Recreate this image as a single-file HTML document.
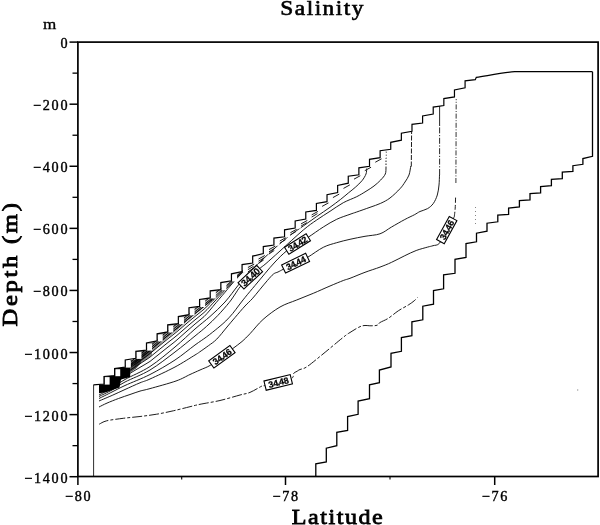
<!DOCTYPE html>
<html><head><meta charset="utf-8"><style>
html,body{margin:0;padding:0;background:#fff;width:600px;height:525px;overflow:hidden;}
body{position:relative;}
svg{will-change:transform;}
.tk{font-family:"Liberation Serif",serif;fill:#000;stroke:#000;stroke-width:0.4px;letter-spacing:1.7px;}
.tt{font-family:"Liberation Serif",serif;font-weight:bold;fill:#000;}
.tr{font-family:"Liberation Serif",serif;fill:#000;stroke:#000;}
.lb{font-family:"Liberation Sans",sans-serif;font-weight:bold;fill:#000;stroke:#000;stroke-width:0.25px;}
</style></head><body>
<svg width="600" height="525" viewBox="0 0 600 525" style="position:absolute;left:0;top:0">
<g fill="none" stroke="#111" stroke-width="0.95" stroke-linejoin="round">
<polyline points="99.00,392.24 102.00,390.98 105.00,389.54 108.00,387.73 111.00,385.92 114.00,383.94 117.00,381.86 120.00,379.77 123.00,377.69 126.00,375.70 129.00,373.91 132.00,372.12 135.00,370.32 138.00,368.55 141.00,366.79 144.00,365.02 147.00,363.25 150.00,361.42 153.00,359.01 156.00,356.60 159.00,354.21 162.00,351.82 165.00,349.44 168.00,347.06 171.00,344.72 174.00,342.38 177.00,339.86 180.00,337.22 183.00,334.57 186.00,331.92 189.00,329.27 192.00,326.66 195.00,324.05 198.00,321.60 201.00,319.13 204.00,316.65 207.00,313.52 210.00,310.05 213.00,306.39 216.00,302.80 219.00,299.27 222.00,295.77 225.00,292.27 228.00,288.56 231.00,285.00 234.00,281.52 237.00,278.16 240.00,274.96 243.00,271.94 246.00,269.54"/>
<polyline points="99.00,389.90 102.00,388.95 105.00,387.66 108.00,385.68 111.00,383.70 114.00,381.60 117.00,379.42 120.00,377.24 123.00,375.05 126.00,372.93 129.00,370.94 132.00,368.95 135.00,366.96 138.00,365.01 141.00,363.07 144.00,361.13 147.00,359.17 150.00,357.12 153.00,354.65 156.00,352.19 159.00,349.75 162.00,347.33 165.00,344.90 168.00,342.49 171.00,340.14 174.00,337.80 177.00,335.33 180.00,332.76 183.00,330.15 186.00,327.54 189.00,324.93 192.00,322.40 195.00,319.87 198.00,317.44 201.00,315.01 204.00,312.55 207.00,309.61 210.00,306.43 213.00,303.12 216.00,299.86 219.00,296.65 222.00,293.44 225.00,290.21 228.00,286.83 231.00,283.55 234.00,280.30 237.00,277.14 240.00,274.08 243.00,271.17 246.00,268.77"/>
<polyline points="99.00,387.99 102.00,387.29 105.00,386.12 108.00,384.00 111.00,381.89 114.00,379.70 117.00,377.43 120.00,375.16 123.00,372.89 126.00,370.66 129.00,368.51 132.00,366.36 135.00,364.20 138.00,362.11 141.00,360.03 144.00,357.95 147.00,355.84 150.00,353.60 153.00,351.09 156.00,348.58 159.00,346.10 162.00,343.65 165.00,341.19 168.00,338.75 171.00,336.40 174.00,334.06 177.00,331.64 180.00,329.11 183.00,326.53 186.00,323.95 189.00,321.38 192.00,318.91 195.00,316.45 198.00,314.05 201.00,311.63 204.00,309.20 207.00,306.42 210.00,303.46 213.00,300.45 216.00,297.46 219.00,294.51 222.00,291.54 225.00,288.53 228.00,285.41 231.00,282.37 234.00,279.31 237.00,276.30 240.00,273.36 243.00,270.54 246.00,268.14"/>
<polyline points="99.00,386.29 102.00,385.81 105.00,384.75 108.00,382.51 111.00,380.28 114.00,378.00 117.00,375.66 120.00,373.32 123.00,370.97 126.00,368.65 129.00,366.35 132.00,364.05 135.00,361.76 138.00,359.53 141.00,357.32 144.00,355.12 147.00,352.88 150.00,350.47 153.00,347.92 156.00,345.36 159.00,342.86 162.00,340.37 165.00,337.89 168.00,335.42 171.00,333.08 174.00,330.73 177.00,328.35 180.00,325.86 183.00,323.31 186.00,320.77 189.00,318.22 192.00,315.81 195.00,313.40 198.00,311.03 201.00,308.64 204.00,306.22 207.00,303.58 210.00,300.83 213.00,298.07 216.00,295.33 219.00,292.61 222.00,289.85 225.00,287.03 228.00,284.16 231.00,281.32 234.00,278.43 237.00,275.56 240.00,272.72 243.00,269.98 246.00,267.58"/>
<polyline points="99.00,383.58 100.00,383.50 101.00,383.43 102.00,383.35 103.00,383.28 104.00,383.20 105.00,382.41 106.00,381.62 107.00,380.83 108.00,380.04 109.00,379.25 110.00,378.45 111.00,377.66 112.00,376.87 113.00,376.08 114.00,375.29 115.00,374.49 116.00,373.68 117.00,372.87 118.00,372.06 119.00,371.25 120.00,370.44 121.00,369.63 122.00,368.82 123.00,368.01 124.00,367.20 125.00,366.39 126.00,365.58 127.00,364.76 128.00,363.94 129.00,363.12 130.00,362.30 131.00,361.48 132.00,360.66 133.00,359.84 134.00,359.02 135.00,358.20 136.00,357.39 137.00,356.61 138.00,355.83 139.00,355.05 140.00,354.26 141.00,353.48 142.00,352.70 143.00,351.92 144.00,351.14 145.00,350.36 146.00,349.58 147.00,348.75 148.00,347.88 149.00,347.02 150.00,346.15 151.00,345.28 152.00,344.42 153.00,343.55 154.00,342.69 155.00,341.82 156.00,340.95 157.00,340.09 158.00,339.25 159.00,338.41 160.00,337.57 161.00,336.73 162.00,335.89 163.00,335.06 164.00,334.22 165.00,333.38 166.00,332.54 167.00,331.70 168.00,330.88 169.00,330.10 170.00,329.32 171.00,328.54 172.00,327.75 173.00,326.97 174.00,326.19 175.00,325.41 176.00,324.63 177.00,323.85 178.00,323.07 179.00,322.25 180.00,321.41 181.00,320.57 182.00,319.73 183.00,318.89 184.00,318.06 185.00,317.22 186.00,316.38 187.00,315.54 188.00,314.70 189.00,313.87 190.00,313.09 191.00,312.31 192.00,311.52 193.00,310.74 194.00,309.96 195.00,309.18 196.00,308.40 197.00,307.62 198.00,306.83 199.00,306.05 200.00,305.26 201.00,304.46 202.00,303.66 203.00,302.86 204.00,302.06 205.00,301.26 206.00,300.46 207.00,299.66 208.00,298.86 209.00,298.06 210.00,297.26 211.00,296.47 212.00,295.69 213.00,294.91 214.00,294.13 215.00,293.35 216.00,292.57 217.00,291.79 218.00,291.00 219.00,290.22 220.00,289.44 221.00,288.65 222.00,287.82" stroke-width="1.0"/>
<polyline points="99.00,385.98 100.00,385.90 101.00,385.83 102.00,385.75 103.00,385.68 104.00,385.60 105.00,384.81 106.00,384.02 107.00,383.23 108.00,382.44 109.00,381.65 110.00,380.85 111.00,380.06 112.00,379.27 113.00,378.48 114.00,377.69 115.00,376.89 116.00,376.08 117.00,375.27 118.00,374.46 119.00,373.65 120.00,372.84 121.00,372.03 122.00,371.22 123.00,370.41 124.00,369.60 125.00,368.79 126.00,367.98 127.00,367.16 128.00,366.34 129.00,365.52 130.00,364.70 131.00,363.88 132.00,363.06 133.00,362.24 134.00,361.42 135.00,360.60 136.00,359.79 137.00,359.01 138.00,358.23 139.00,357.45 140.00,356.66 141.00,355.88 142.00,355.10 143.00,354.32 144.00,353.54 145.00,352.76 146.00,351.98 147.00,351.15 148.00,350.28 149.00,349.42 150.00,348.55 151.00,347.68 152.00,346.82 153.00,345.95 154.00,345.09 155.00,344.22 156.00,343.35 157.00,342.49 158.00,341.65 159.00,340.81 160.00,339.97 161.00,339.13 162.00,338.29 163.00,337.46 164.00,336.62 165.00,335.78 166.00,334.94 167.00,334.10 168.00,333.28 169.00,332.50 170.00,331.72 171.00,330.94 172.00,330.15 173.00,329.37 174.00,328.59 175.00,327.81 176.00,327.03 177.00,326.25 178.00,325.47 179.00,324.65 180.00,323.81 181.00,322.97 182.00,322.13 183.00,321.29 184.00,320.46 185.00,319.62 186.00,318.78 187.00,317.94 188.00,317.10 189.00,316.27 190.00,315.49 191.00,314.71 192.00,313.92 193.00,313.14 194.00,312.36 195.00,311.58 196.00,310.80 197.00,310.02 198.00,309.23 199.00,308.45 200.00,307.66 201.00,306.86 202.00,306.06 203.00,305.26 204.00,304.46 205.00,303.66 206.00,302.86 207.00,302.06 208.00,301.26 209.00,300.46 210.00,299.66 211.00,298.87 212.00,298.09 213.00,297.31 214.00,296.53 215.00,295.75" stroke-width="1.0"/>
<polyline points="99.00,387.98 100.00,387.90 101.00,387.83 102.00,387.75 103.00,387.68 104.00,387.60 105.00,386.81 106.00,386.02 107.00,385.23 108.00,384.44 109.00,383.65 110.00,382.85 111.00,382.06 112.00,381.27 113.00,380.48 114.00,379.69 115.00,378.89 116.00,378.08 117.00,377.27 118.00,376.46 119.00,375.65 120.00,374.84 121.00,374.03 122.00,373.22 123.00,372.41 124.00,371.60 125.00,370.79 126.00,369.98 127.00,369.16 128.00,368.34 129.00,367.52 130.00,366.70 131.00,365.88 132.00,365.06 133.00,364.24 134.00,363.42 135.00,362.60 136.00,361.79 137.00,361.01 138.00,360.23 139.00,359.45 140.00,358.66 141.00,357.88 142.00,357.10 143.00,356.32 144.00,355.54 145.00,354.76 146.00,353.98 147.00,353.15 148.00,352.28 149.00,351.42 150.00,350.55 151.00,349.68 152.00,348.82 153.00,347.95 154.00,347.09 155.00,346.22 156.00,345.35 157.00,344.49 158.00,343.65 159.00,342.81 160.00,341.97 161.00,341.13 162.00,340.29 163.00,339.46 164.00,338.62 165.00,337.78 166.00,336.94 167.00,336.10 168.00,335.28 169.00,334.50 170.00,333.72 171.00,332.94 172.00,332.15 173.00,331.37 174.00,330.59 175.00,329.81 176.00,329.03 177.00,328.25 178.00,327.47 179.00,326.65 180.00,325.81 181.00,324.97 182.00,324.13 183.00,323.29 184.00,322.46 185.00,321.62 186.00,320.78 187.00,319.94 188.00,319.10 189.00,318.27 190.00,317.49 191.00,316.71 192.00,315.92 193.00,315.14 194.00,314.36 195.00,313.58 196.00,312.80 197.00,312.02 198.00,311.23 199.00,310.45 200.00,309.66 201.00,308.86 202.00,308.06 203.00,307.26 204.00,306.46 205.00,305.66 206.00,304.86 207.00,304.06 208.00,303.26 209.00,302.46 210.00,301.66 211.00,300.87 212.00,300.09 213.00,299.31 214.00,298.53 215.00,297.75" stroke-width="1.0"/>
<path d="M 99.00 395.00 C 101.17 393.83 107.67 390.58 112.00 388.00 C 116.33 385.42 118.67 383.08 125.00 379.50 C 131.33 375.92 141.67 371.92 150.00 366.50 C 158.33 361.08 167.50 353.25 175.00 347.00 C 182.50 340.75 189.17 334.08 195.00 329.00 C 200.83 323.92 205.00 321.00 210.00 316.50 C 215.00 312.00 220.27 307.25 225.00 302.00 C 229.73 296.75 234.23 290.08 238.40 285.00 C 242.57 279.92 246.07 275.67 250.00 271.50 C 253.93 267.33 257.83 263.92 262.00 260.00 C 266.17 256.08 270.33 252.12 275.00 248.00 C 279.67 243.88 285.28 238.97 290.00 235.30 C 294.72 231.63 298.85 229.13 303.30 226.00 C 307.75 222.87 312.25 219.62 316.70 216.50 C 321.15 213.38 326.00 210.17 330.00 207.30 C 334.00 204.43 337.58 201.73 340.70 199.30 C 343.82 196.87 346.27 194.70 348.70 192.70 C 351.13 190.70 353.08 189.30 355.30 187.30 C 357.52 185.30 360.22 182.92 362.00 180.70 C 363.78 178.48 365.22 176.03 366.00 174.00 C 366.78 171.97 366.58 169.42 366.70 168.50"/>
<path d="M 99.00 396.50 C 101.17 395.42 107.67 392.42 112.00 390.00 C 116.33 387.58 118.67 385.33 125.00 382.00 C 131.33 378.67 141.67 375.00 150.00 370.00 C 158.33 365.00 167.50 357.67 175.00 352.00 C 182.50 346.33 189.77 340.25 195.00 336.00 C 200.23 331.75 202.60 329.92 206.40 326.50 C 210.20 323.08 214.00 319.50 217.80 315.50 C 221.60 311.50 226.30 306.08 229.20 302.50 C 232.10 298.92 233.32 296.68 235.20 294.00 C 237.08 291.32 238.07 289.12 240.50 286.40 C 242.93 283.68 246.72 280.58 249.80 277.70 C 252.88 274.82 256.30 271.47 259.00 269.10 C 261.70 266.73 262.50 266.52 266.00 263.50 C 269.50 260.48 273.78 256.58 280.00 251.00 C 286.22 245.42 297.18 235.17 303.30 230.00 C 309.42 224.83 312.25 223.12 316.70 220.00 C 321.15 216.88 325.57 214.18 330.00 211.30 C 334.43 208.42 338.85 205.13 343.30 202.70 C 347.75 200.27 352.92 198.60 356.70 196.70 C 360.48 194.80 363.12 193.08 366.00 191.30 C 368.88 189.52 371.55 187.88 374.00 186.00 C 376.45 184.12 378.82 182.00 380.70 180.00 C 382.58 178.00 384.42 176.00 385.30 174.00 C 386.18 172.00 385.88 169.00 386.00 168.00"/>
<path d="M 99.00 398.50 C 101.17 397.42 107.67 394.17 112.00 392.00 C 116.33 389.83 118.67 388.42 125.00 385.50 C 131.33 382.58 141.67 378.75 150.00 374.50 C 158.33 370.25 167.50 364.92 175.00 360.00 C 182.50 355.08 189.77 348.83 195.00 345.00 C 200.23 341.17 202.60 339.83 206.40 337.00 C 210.20 334.17 214.57 330.67 217.80 328.00 C 221.03 325.33 223.32 323.42 225.80 321.00 C 228.28 318.58 230.60 316.00 232.70 313.50 C 234.80 311.00 236.35 308.67 238.40 306.00 C 240.45 303.33 242.23 300.92 245.00 297.50 C 247.77 294.08 251.67 289.50 255.00 285.50 C 258.33 281.50 261.67 277.42 265.00 273.50 C 268.33 269.58 271.38 265.78 275.00 262.00 C 278.62 258.22 282.95 253.80 286.70 250.80 C 290.45 247.80 293.90 246.27 297.50 244.00 C 301.10 241.73 304.00 240.03 308.30 237.20 C 312.60 234.37 318.57 229.98 323.30 227.00 C 328.03 224.02 332.25 221.42 336.70 219.30 C 341.15 217.18 346.67 215.52 350.00 214.30 C 353.33 213.08 353.37 213.17 356.70 212.00 C 360.03 210.83 366.00 208.75 370.00 207.30 C 374.00 205.85 377.37 204.85 380.70 203.30 C 384.03 201.75 386.78 200.43 390.00 198.00 C 393.22 195.57 397.50 191.37 400.00 188.70 C 402.50 186.03 403.50 184.28 405.00 182.00 C 406.50 179.72 408.03 177.67 409.00 175.00 C 409.97 172.33 410.50 167.50 410.80 166.00"/>
<path d="M 99.00 401.00 C 101.30 400.02 108.47 397.02 112.80 395.10 C 117.13 393.18 120.47 391.55 125.00 389.50 C 129.53 387.45 135.83 384.55 140.00 382.80 C 144.17 381.05 144.17 381.63 150.00 379.00 C 155.83 376.37 167.50 371.00 175.00 367.00 C 182.50 363.00 190.83 357.55 195.00 355.00 C 199.17 352.45 197.78 353.23 200.00 351.70 C 202.22 350.17 205.52 347.88 208.30 345.80 C 211.08 343.72 213.58 342.33 216.70 339.20 C 219.82 336.07 223.95 330.62 227.00 327.00 C 230.05 323.38 232.00 321.00 235.00 317.50 C 238.00 314.00 242.13 309.12 245.00 306.00 C 247.87 302.88 249.73 301.53 252.20 298.80 C 254.67 296.07 257.27 292.65 259.80 289.60 C 262.33 286.55 265.12 283.10 267.40 280.50 C 269.68 277.90 271.73 275.42 273.50 274.00 C 275.27 272.58 276.32 272.82 278.00 272.00 C 279.68 271.18 280.67 270.57 283.60 269.10 C 286.53 267.63 291.60 265.17 295.60 263.20 C 299.60 261.23 302.98 259.95 307.60 257.30 C 312.22 254.65 318.45 249.73 323.30 247.30 C 328.15 244.87 332.25 244.03 336.70 242.70 C 341.15 241.37 345.28 240.37 350.00 239.30 C 354.72 238.23 360.00 237.22 365.00 236.30 C 370.00 235.38 375.60 235.33 380.00 233.80 C 384.40 232.27 387.27 229.48 391.40 227.10 C 395.53 224.72 400.98 221.55 404.80 219.50 C 408.62 217.45 411.77 216.13 414.30 214.80 C 416.83 213.47 417.78 212.53 420.00 211.50 C 422.22 210.47 425.38 209.93 427.60 208.60 C 429.82 207.27 431.68 205.77 433.30 203.50 C 434.92 201.23 436.35 198.08 437.30 195.00 C 438.25 191.92 438.63 188.33 439.00 185.00 C 439.37 181.67 439.42 176.67 439.50 175.00"/>
<path d="M 99.00 407.00 C 100.33 406.35 103.75 404.52 107.00 403.10 C 110.25 401.68 114.67 399.93 118.50 398.50 C 122.33 397.07 126.42 395.73 130.00 394.50 C 133.58 393.27 136.67 392.08 140.00 391.10 C 143.33 390.12 144.00 390.28 150.00 388.60 C 156.00 386.92 169.33 383.35 176.00 381.00 C 182.67 378.65 186.00 376.33 190.00 374.50 C 194.00 372.67 196.58 371.55 200.00 370.00 C 203.42 368.45 206.85 367.40 210.50 365.20 C 214.15 363.00 218.15 359.60 221.90 356.80 C 225.65 354.00 229.65 350.95 233.00 348.40 C 236.35 345.85 239.17 343.95 242.00 341.50 C 244.83 339.05 246.50 337.37 250.00 333.70 C 253.50 330.03 258.00 323.95 263.00 319.50 C 268.00 315.05 274.38 310.25 280.00 307.00 C 285.62 303.75 291.15 302.28 296.70 300.00 C 302.25 297.72 307.75 295.63 313.30 293.30 C 318.85 290.97 325.00 288.13 330.00 286.00 C 335.00 283.87 339.97 281.78 343.30 280.50 C 346.63 279.22 346.38 279.67 350.00 278.30 C 353.62 276.93 360.00 274.17 365.00 272.30 C 370.00 270.43 375.60 268.75 380.00 267.10 C 384.40 265.45 387.27 264.30 391.40 262.40 C 395.53 260.50 400.67 257.68 404.80 255.70 C 408.93 253.72 412.40 251.93 416.20 250.50 C 420.00 249.07 424.80 247.90 427.60 247.10 C 430.40 246.30 431.02 246.35 433.00 245.70 C 434.98 245.05 437.21 245.80 439.50 243.20 C 441.79 240.60 444.28 234.52 446.75 230.10 C 449.22 225.68 453.04 218.93 454.30 216.70"/>
<path d="M 454.30 216.70 C 454.45 215.27 454.98 211.43 455.20 208.10 C 455.42 204.77 455.53 198.60 455.60 196.70" stroke-dasharray="5 2"/>
<path d="M 455.9 183 L 456.2 99" stroke-dasharray="5 1.6 1 1.6" stroke-width="0.85"/>
<path d="M 439.6 175 L 439.6 125" stroke-dasharray="6 1.6 1.2 1.6" stroke-width="0.9"/>
<path d="M 439.6 125.5 L 439.6 106" stroke-width="0.9"/>
<path d="M 411.3 166.5 L 411.6 132" stroke-dasharray="5 1.5"/>
<path d="M 386 168 L 386 151" stroke-dasharray="1.5 1.5"/>
<path d="M 99.20 424.20 C 100.45 423.63 102.68 421.78 106.70 420.80 C 110.72 419.82 117.75 419.02 123.30 418.30 C 128.85 417.58 134.43 417.18 140.00 416.50 C 145.57 415.82 151.15 415.15 156.70 414.20 C 162.25 413.25 167.75 412.05 173.30 410.80 C 178.85 409.55 185.55 407.78 190.00 406.70 C 194.45 405.62 195.00 405.33 200.00 404.30 C 205.00 403.27 213.33 402.05 220.00 400.50 C 226.67 398.95 235.00 396.35 240.00 395.00 C 245.00 393.65 246.33 393.90 250.00 392.40 C 253.67 390.90 259.53 387.13 262.00 386.00 C 264.47 384.87 262.10 386.20 264.80 385.60 C 267.50 385.00 273.70 383.63 278.20 382.40 C 282.70 381.17 289.25 379.68 291.80 378.20 C 294.35 376.72 292.63 374.65 293.50 373.50 C 294.37 372.35 295.92 371.97 297.00 371.30 C 298.08 370.63 298.33 370.27 300.00 369.50 C 301.67 368.73 303.17 369.28 307.00 366.70 C 310.83 364.12 317.00 358.87 323.00 354.00 C 329.00 349.13 338.50 341.08 343.00 337.50 C 347.50 333.92 346.88 334.42 350.00 332.50 C 353.12 330.58 358.20 327.12 361.70 326.00 C 365.20 324.88 368.45 325.92 371.00 325.80 C 373.55 325.68 375.50 325.85 377.00 325.30 C 378.50 324.75 378.12 323.67 380.00 322.50 C 381.88 321.33 385.25 320.25 388.30 318.30 C 391.35 316.35 394.97 313.02 398.30 310.80 C 401.63 308.58 405.65 306.67 408.30 305.00 C 410.95 303.33 412.67 302.05 414.20 300.80 C 415.73 299.55 416.95 298.05 417.50 297.50" stroke-dasharray="10 2 3 2"/>
<line x1="247.76" y1="267.60" x2="254.26" y2="264.00" stroke-width="0.95" stroke="#111"/>
<line x1="247.76" y1="269.80" x2="253.66" y2="266.20" stroke-width="0.95" stroke="#111"/>
<line x1="247.76" y1="272.00" x2="253.06" y2="268.40" stroke-width="0.95" stroke="#111"/>
<line x1="258.38" y1="259.10" x2="264.88" y2="255.50" stroke-width="0.95" stroke="#111"/>
<line x1="258.38" y1="261.30" x2="264.28" y2="257.70" stroke-width="0.95" stroke="#111"/>
<line x1="258.38" y1="263.50" x2="263.68" y2="259.90" stroke-width="0.95" stroke="#111"/>
<line x1="269.00" y1="249.60" x2="275.50" y2="246.00" stroke-width="0.95" stroke="#111"/>
<line x1="269.00" y1="251.80" x2="274.90" y2="248.20" stroke-width="0.95" stroke="#111"/>
<line x1="269.00" y1="254.00" x2="274.30" y2="250.40" stroke-width="0.95" stroke="#111"/>
<line x1="279.62" y1="241.10" x2="286.12" y2="237.50" stroke-width="0.95" stroke="#111"/>
<line x1="279.62" y1="243.30" x2="285.52" y2="239.70" stroke-width="0.95" stroke="#111"/>
<line x1="290.24" y1="232.80" x2="296.74" y2="229.20" stroke-width="0.95" stroke="#111"/>
<line x1="290.24" y1="235.00" x2="296.14" y2="231.40" stroke-width="0.95" stroke="#111"/>
<line x1="300.86" y1="224.00" x2="307.36" y2="220.40" stroke-width="0.95" stroke="#111"/>
<line x1="300.86" y1="226.20" x2="306.76" y2="222.60" stroke-width="0.95" stroke="#111"/>
<line x1="311.48" y1="215.00" x2="317.98" y2="211.40" stroke-width="0.95" stroke="#111"/>
<line x1="311.48" y1="217.20" x2="317.38" y2="213.60" stroke-width="0.95" stroke="#111"/>
<line x1="322.10" y1="206.40" x2="328.60" y2="202.80" stroke-width="0.95" stroke="#111"/>
<line x1="332.72" y1="197.70" x2="339.22" y2="194.10" stroke-width="0.95" stroke="#111"/>
<line x1="343.34" y1="188.50" x2="349.84" y2="184.90" stroke-width="0.95" stroke="#111"/>
<line x1="353.96" y1="179.20" x2="360.46" y2="175.60" stroke-width="0.95" stroke="#111"/>
<line x1="364.58" y1="170.80" x2="371.08" y2="167.20" stroke-width="0.95" stroke="#111"/>
<line x1="375.20" y1="162.30" x2="381.70" y2="158.70" stroke-width="0.95" stroke="#111"/>
</g>
<polygon points="99.00,384.60 104.00,384.20 104.00,376.50 114.60,375.60 114.60,368.60 125.20,367.30 130.20,366.90 130.20,377.00 121.00,379.50 119.50,387.50 106.00,392.30 99.00,393.20" fill="#000"/>
<polygon points="130.20,360.30 135.90,359.40 141.00,358.60 141.00,363.00 136.00,368.50 130.20,372.50" fill="#000" fill-opacity="0.7"/>
<polygon points="141.00,351.80 146.50,351.00 152.00,350.20 152.00,355.00 146.50,359.50 141.00,362.50" fill="#000" fill-opacity="0.45"/>
<defs><linearGradient id="gb" gradientUnits="userSpaceOnUse" x1="134" y1="0" x2="360" y2="0"><stop offset="0" stop-color="#000" stop-opacity="0.5"/><stop offset="0.137" stop-color="#000" stop-opacity="0.42"/><stop offset="0.29" stop-color="#000" stop-opacity="0.28"/><stop offset="0.47" stop-color="#000" stop-opacity="0.1"/><stop offset="0.65" stop-color="#000" stop-opacity="0.0"/><stop offset="1" stop-color="#000" stop-opacity="0.0"/></linearGradient></defs>
<polygon points="134.50,358.70 135.86,358.30 135.86,351.30 146.48,350.00 146.48,343.00 157.10,340.80 157.10,333.80 167.72,331.90 167.72,324.90 178.34,323.60 178.34,316.60 188.96,314.70 188.96,307.70 199.58,306.40 199.58,299.40 210.20,297.90 210.20,290.90 220.82,289.60 220.82,282.60 231.44,280.80 231.44,273.80 242.06,271.60 242.06,264.60 252.68,263.10 252.68,256.10 263.30,253.60 263.30,246.60 273.92,245.10 273.92,238.10 284.54,236.80 284.54,229.80 295.16,228.00 295.16,221.00 305.78,219.00 305.78,212.00 316.40,210.40 316.40,203.40 327.02,201.70 327.02,194.70 337.64,192.50 337.64,185.50 348.26,183.20 348.26,176.20 358.88,174.80 358.88,177.30 356.88,178.88 354.88,180.46 352.88,182.05 350.88,183.63 348.88,185.21 346.88,186.91 344.88,188.66 342.88,190.41 340.88,192.16 338.88,193.91 336.88,195.66 334.88,197.39 332.88,199.12 330.88,200.86 328.88,202.59 326.88,204.31 324.88,205.95 322.88,207.59 320.88,209.23 318.88,210.87 316.88,212.51 314.88,214.13 312.88,215.75 310.88,217.37 308.88,218.99 306.88,220.61 304.88,222.26 302.88,223.96 300.88,225.65 298.88,227.35 296.88,229.04 294.88,230.73 292.88,232.39 290.88,234.05 288.88,235.70 286.88,237.36 284.88,239.02 282.88,240.60 280.88,242.16 278.88,243.72 276.88,245.29 274.88,246.85 272.88,248.43 270.88,250.03 268.88,251.63 266.88,253.23 264.88,254.84 262.88,256.48 260.88,258.26 258.88,260.08 256.88,261.95 254.88,263.82 252.88,265.69 250.88,267.39 248.88,269.07 246.88,270.75 244.88,272.43 242.88,274.11 240.88,275.87 238.88,277.68 236.88,279.49 234.88,281.30 232.88,283.12 230.88,284.91 228.88,286.65 226.88,288.38 224.88,290.12 222.88,291.86 220.88,293.60 218.88,295.24 216.88,296.88 214.88,298.53 212.88,300.17 210.88,301.81 208.88,303.48 206.88,305.16 204.88,306.84 202.88,308.52 200.88,310.20 198.88,311.87 196.88,313.51 194.88,315.16 192.88,316.80 190.88,318.44 188.88,320.09 186.88,321.85 184.88,323.60 182.88,325.36 180.88,327.12 178.88,328.87 176.88,330.55 174.88,332.19 172.88,333.83 170.88,335.48 168.88,337.12 166.88,338.81 164.88,340.56 162.88,342.32 160.88,344.08 158.88,345.83 156.88,347.60 154.88,349.41 152.88,351.22 150.88,353.03 148.88,354.85 146.88,356.66 144.88,358.34 142.88,359.98 140.88,361.62 138.88,363.26 136.88,364.91 134.88,366.59 134.50,366.91" fill="url(#gb)"/>
<polygon points="93.50,384.80 104.00,384.00 104.00,376.50 114.62,375.60 114.62,368.60 125.24,367.00 125.24,360.00 135.86,358.30 135.86,351.30 146.48,350.00 146.48,343.00 157.10,340.80 157.10,333.80 167.72,331.90 167.72,324.90 178.34,323.60 178.34,316.60 188.96,314.70 188.96,307.70 199.58,306.40 199.58,299.40 210.20,297.90 210.20,290.90 220.82,289.60 220.82,282.60 231.44,280.80 231.44,273.80 242.06,271.60 242.06,264.60 252.68,263.10 252.68,256.10 263.30,253.60 263.30,246.60 273.92,245.10 273.92,238.10 284.54,236.80 284.54,229.80 295.16,228.00 295.16,221.00 305.78,219.00 305.78,212.00 316.40,210.40 316.40,203.40 327.02,201.70 327.02,194.70 337.64,192.50 337.64,185.50 348.26,183.20 348.26,176.20 358.88,174.80 358.88,167.80 369.50,166.30 369.50,159.30 380.12,157.70 380.12,150.70 390.74,149.30 390.74,142.30 401.36,140.20 401.36,133.20 411.98,131.30 411.98,124.30 422.60,123.00 422.60,116.00 433.22,114.10 433.22,107.10 443.84,105.60 443.84,98.60 454.46,96.90 454.46,89.90 465.08,87.80 465.08,80.80 475.30,79.70 476.30,77.30 514.70,71.70 600.00,60.00 0.00,60.00 0.00,384.80" fill="#fff"/>
<rect x="104.60" y="377.10" width="5.0" height="7.50" fill="#fff"/>
<rect x="115.22" y="369.20" width="5.0" height="7.00" fill="#fff"/>
<rect x="125.84" y="360.60" width="5.0" height="7.00" fill="#fff"/>
<rect x="136.46" y="351.90" width="5.0" height="7.00" fill="#fff"/>
<rect x="147.08" y="343.60" width="5.0" height="7.00" fill="#fff"/>
<rect x="157.70" y="334.40" width="5.0" height="7.00" fill="#fff"/>
<rect x="168.32" y="325.50" width="5.0" height="7.00" fill="#fff"/>
<rect x="178.94" y="317.20" width="5.0" height="7.00" fill="#fff"/>
<rect x="189.56" y="308.30" width="5.0" height="7.00" fill="#fff"/>
<rect x="200.18" y="300.00" width="5.0" height="7.00" fill="#fff"/>
<rect x="210.80" y="291.50" width="5.0" height="7.00" fill="#fff"/>
<rect x="221.42" y="283.20" width="5.0" height="7.00" fill="#fff"/>
<rect x="232.04" y="274.40" width="5.0" height="7.00" fill="#fff"/>
<rect x="242.66" y="265.20" width="5.0" height="7.00" fill="#fff"/>
<rect x="253.28" y="256.70" width="5.0" height="7.00" fill="#fff"/>
<rect x="263.90" y="247.20" width="5.0" height="7.00" fill="#fff"/>
<rect x="274.52" y="238.70" width="5.0" height="7.00" fill="#fff"/>
<rect x="285.14" y="230.40" width="5.0" height="7.00" fill="#fff"/>
<rect x="295.76" y="221.60" width="5.0" height="7.00" fill="#fff"/>
<rect x="306.38" y="212.60" width="5.0" height="7.00" fill="#fff"/>
<rect x="317.00" y="204.00" width="5.0" height="7.00" fill="#fff"/>
<rect x="327.62" y="195.30" width="5.0" height="7.00" fill="#fff"/>
<rect x="338.24" y="186.10" width="5.0" height="7.00" fill="#fff"/>
<rect x="348.86" y="176.80" width="5.0" height="7.00" fill="#fff"/>
<rect x="359.48" y="168.40" width="5.0" height="7.00" fill="#fff"/>
<rect x="370.10" y="159.90" width="5.0" height="7.00" fill="#fff"/>
<rect x="380.72" y="151.30" width="5.0" height="7.00" fill="#fff"/>
<path d="M 93.50,384.80 104.00,384.00 104.00,376.50 114.62,375.60 114.62,368.60 125.24,367.00 125.24,360.00 135.86,358.30 135.86,351.30 146.48,350.00 146.48,343.00 157.10,340.80 157.10,333.80 167.72,331.90 167.72,324.90 178.34,323.60 178.34,316.60 188.96,314.70 188.96,307.70 199.58,306.40 199.58,299.40 210.20,297.90 210.20,290.90 220.82,289.60 220.82,282.60 231.44,280.80 231.44,273.80 242.06,271.60 242.06,264.60 252.68,263.10 252.68,256.10 263.30,253.60 263.30,246.60 273.92,245.10 273.92,238.10 284.54,236.80 284.54,229.80 295.16,228.00 295.16,221.00 305.78,219.00 305.78,212.00 316.40,210.40 316.40,203.40 327.02,201.70 327.02,194.70 337.64,192.50 337.64,185.50 348.26,183.20 348.26,176.20 358.88,174.80 358.88,167.80 369.50,166.30 369.50,159.30 380.12,157.70 380.12,150.70 390.74,149.30 390.74,142.30 401.36,140.20 401.36,133.20 411.98,131.30 411.98,124.30 422.60,123.00 422.60,116.00 433.22,114.10 433.22,107.10 443.84,105.60 443.84,98.60 454.46,96.90 454.46,89.90 465.08,87.80 465.08,80.80 475.30,79.70 476.30,77.30 C 490 75.2 503 72.8 514.7 71.7 L 592.5 71.7" fill="none" stroke="#000" stroke-width="1.2" stroke-linejoin="miter"/>
<line x1="93.6" y1="476" x2="93.6" y2="384.8" stroke="#222" stroke-width="0.95"/>
<polyline points="315.80,477.00 315.80,463.80 326.30,461.90 326.30,448.20 336.80,445.70 336.80,432.40 347.60,430.50 347.60,416.60 358.10,414.30 358.10,401.00 369.50,398.70 369.50,384.80 379.40,382.70 379.40,370.10 391.00,367.00 391.00,353.40 401.40,351.30 401.40,337.60 411.90,335.60 411.90,321.90 422.80,319.80 422.80,306.20 433.50,304.10 433.50,290.50 443.60,288.80 443.60,274.80 455.00,273.30 455.00,259.30 466.00,257.50 466.00,243.50 476.50,241.80 476.50,233.20 487.00,231.20 487.00,223.20 497.80,221.80 497.80,215.00 508.60,214.30 508.60,208.00 519.40,207.00 519.40,200.60 530.00,200.00 530.00,193.70 540.60,192.90 540.60,186.60 551.40,185.70 551.40,179.40 562.30,178.60 562.30,172.00 572.90,171.40 572.90,165.70 582.90,164.30 582.90,158.60 592.50,156.30 592.50,71.70" fill="none" stroke="#000" stroke-width="1.3"/>
<g transform="translate(250.30 277.20) rotate(-43.0)"><rect x="-12.75" y="-4.30" width="25.50" height="8.60" fill="#fff" stroke="#000" stroke-width="1.1"/><text x="0.3" y="3.38" font-size="9.4" text-anchor="middle" class="lb">34<tspan dx="-0.8">.</tspan><tspan dx="-0.6">40</tspan></text></g>
<g transform="translate(297.50 244.00) rotate(-32.0)"><rect x="-12.75" y="-4.10" width="25.50" height="8.20" fill="#fff" stroke="#000" stroke-width="1.1"/><text x="0.3" y="3.20" font-size="8.9" text-anchor="middle" class="lb">34<tspan dx="-0.8">.</tspan><tspan dx="-0.6">42</tspan></text></g>
<g transform="translate(295.60 263.20) rotate(-26.0)"><rect x="-13.35" y="-4.50" width="26.70" height="9.00" fill="#fff" stroke="#000" stroke-width="1.1"/><text x="0.3" y="3.20" font-size="8.9" text-anchor="middle" class="lb">34<tspan dx="-0.8">.</tspan><tspan dx="-0.6">44</tspan></text></g>
<g transform="translate(221.90 356.80) rotate(-36.0)"><rect x="-13.10" y="-4.40" width="26.20" height="8.80" fill="#fff" stroke="#000" stroke-width="1.1"/><text x="0.3" y="3.20" font-size="8.9" text-anchor="middle" class="lb">34<tspan dx="-0.8">.</tspan><tspan dx="-0.6">46</tspan></text></g>
<g transform="translate(446.75 230.10) rotate(-61.3)"><rect x="-13.20" y="-4.35" width="26.40" height="8.70" fill="#fff" stroke="#000" stroke-width="1.1"/><text x="0.3" y="3.20" font-size="8.9" text-anchor="middle" class="lb">34<tspan dx="-0.8">.</tspan><tspan dx="-0.6">46</tspan></text></g>
<g transform="translate(278.20 382.40) rotate(-13.7)"><rect x="-13.50" y="-4.75" width="27.00" height="9.50" fill="#fff" stroke="#000" stroke-width="1.1"/><text x="0.3" y="3.20" font-size="8.9" text-anchor="middle" class="lb">34<tspan dx="-0.8">.</tspan><tspan dx="-0.6">48</tspan></text></g>
<circle cx="577.7" cy="390" r="0.7" fill="#999"/>
<line x1="475.5" y1="207" x2="475.5" y2="227" stroke="#666" stroke-width="0.8" stroke-dasharray="1 3"/>
<rect x="77.9" y="42.1" width="520.2" height="434.4" fill="none" stroke="#000" stroke-width="1.7"/>
<line x1="69.5" y1="42.10" x2="78" y2="42.10" stroke="#000" stroke-width="1.5"/>
<line x1="72.5" y1="73.14" x2="78" y2="73.14" stroke="#000" stroke-width="1.3"/>
<line x1="69.5" y1="104.19" x2="78" y2="104.19" stroke="#000" stroke-width="1.5"/>
<line x1="72.5" y1="135.23" x2="78" y2="135.23" stroke="#000" stroke-width="1.3"/>
<line x1="69.5" y1="166.27" x2="78" y2="166.27" stroke="#000" stroke-width="1.5"/>
<line x1="72.5" y1="197.31" x2="78" y2="197.31" stroke="#000" stroke-width="1.3"/>
<line x1="69.5" y1="228.36" x2="78" y2="228.36" stroke="#000" stroke-width="1.5"/>
<line x1="72.5" y1="259.40" x2="78" y2="259.40" stroke="#000" stroke-width="1.3"/>
<line x1="69.5" y1="290.44" x2="78" y2="290.44" stroke="#000" stroke-width="1.5"/>
<line x1="72.5" y1="321.49" x2="78" y2="321.49" stroke="#000" stroke-width="1.3"/>
<line x1="69.5" y1="352.53" x2="78" y2="352.53" stroke="#000" stroke-width="1.5"/>
<line x1="72.5" y1="383.57" x2="78" y2="383.57" stroke="#000" stroke-width="1.3"/>
<line x1="69.5" y1="414.61" x2="78" y2="414.61" stroke="#000" stroke-width="1.5"/>
<line x1="72.5" y1="445.66" x2="78" y2="445.66" stroke="#000" stroke-width="1.3"/>
<line x1="69.5" y1="476.70" x2="78" y2="476.70" stroke="#000" stroke-width="1.5"/>
<line x1="77.90" y1="476" x2="77.90" y2="485" stroke="#000" stroke-width="1.5"/>
<line x1="181.70" y1="476" x2="181.70" y2="479.5" stroke="#000" stroke-width="1.1"/>
<line x1="285.50" y1="476" x2="285.50" y2="485" stroke="#000" stroke-width="1.5"/>
<line x1="390.00" y1="476" x2="390.00" y2="479.5" stroke="#000" stroke-width="1.1"/>
<line x1="494.70" y1="476" x2="494.70" y2="485" stroke="#000" stroke-width="1.5"/>
<text x="69.2" y="48.10" font-size="14.2" text-anchor="end" class="tk">0</text>
<text x="69.2" y="110.19" font-size="14.2" text-anchor="end" class="tk">−200</text>
<text x="69.2" y="172.27" font-size="14.2" text-anchor="end" class="tk">−400</text>
<text x="69.2" y="234.36" font-size="14.2" text-anchor="end" class="tk">−600</text>
<text x="69.2" y="296.44" font-size="14.2" text-anchor="end" class="tk">−800</text>
<text x="69.2" y="358.53" font-size="14.2" text-anchor="end" class="tk">−1000</text>
<text x="69.2" y="420.61" font-size="14.2" text-anchor="end" class="tk">−1200</text>
<text x="69.2" y="482.70" font-size="14.2" text-anchor="end" class="tk">−1400</text>
<text x="78.60" y="501.0" font-size="14.2" text-anchor="middle" class="tk">−80</text>
<text x="286.20" y="501.0" font-size="14.2" text-anchor="middle" class="tk">−78</text>
<text x="495.40" y="501.0" font-size="14.2" text-anchor="middle" class="tk">−76</text>
<text transform="translate(49.6 29.0) scale(1.22 1)" x="0" y="0" font-size="14" text-anchor="middle" class="tr" stroke-width="0.3">m</text>
<text transform="translate(322.6 15.0) scale(1.14 1)" x="0" y="0" font-size="20.5" text-anchor="middle" class="tr" stroke-width="0.6" letter-spacing="1.3">Salinity</text>
<text transform="translate(338.0 523.8) scale(1.12 1)" x="0" y="0" font-size="21.5" text-anchor="middle" class="tr" stroke-width="0.8" letter-spacing="1.4">Latitude</text>
<text transform="translate(16.8 263.5) rotate(-90) scale(1.12 1)" x="0" y="0" font-size="22" text-anchor="middle" class="tr" stroke-width="0.9" letter-spacing="2.4">Depth (m)</text>
</svg>
</body></html>
